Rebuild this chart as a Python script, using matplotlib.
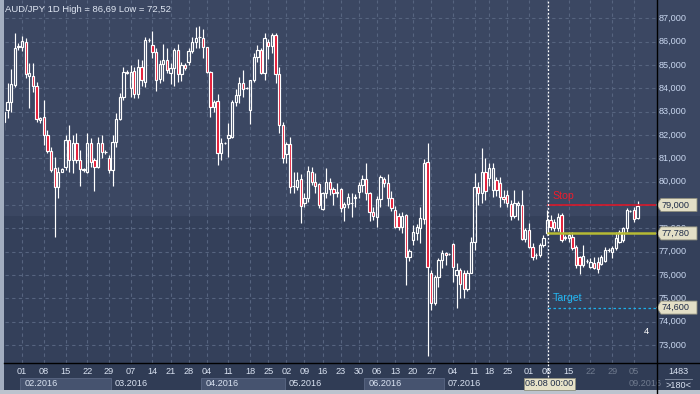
import matplotlib
matplotlib.use("Agg")
import matplotlib.pyplot as plt
from matplotlib.patches import Rectangle, Polygon

plt.rcParams['font.family'] = ['Liberation Sans', 'DejaVu Sans']

# daily bars AUD/JPY (one row per bar, left to right)
opens = [82.55, 83.07, 83.43, 84.14, 85.75, 85.78, 85.97, 84.53, 84.53, 84.10,
         82.64, 82.76, 82.00, 81.31, 80.57, 79.76, 80.43, 80.64, 81.78, 80.93,
         81.67, 80.93, 80.53, 80.43, 81.64, 80.93, 80.61, 81.67, 81.25, 81.03,
         80.50, 81.71, 82.67, 83.61, 84.70, 84.00, 84.74, 83.76, 84.90, 84.29,
         86.05, 85.86, 85.57, 84.38, 85.03, 85.21, 84.67, 84.86, 85.64, 84.61,
         85.00, 85.14, 85.60, 86.00, 86.20, 86.17, 85.75, 84.68, 83.21, 83.46,
         81.21, 81.64, 81.86, 81.90, 83.40, 83.71, 84.21, 84.00, 83.07, 84.36,
         85.36, 85.64, 84.64, 86.00, 85.81, 86.28, 84.61, 82.43, 81.18, 81.61,
         79.80, 79.78, 80.10, 79.10, 79.28, 80.43, 80.00, 79.88, 78.81, 79.50,
         79.97, 79.68, 79.53, 79.67, 78.90, 79.04, 79.07, 79.30, 79.57, 79.86,
         80.10, 79.50, 78.71, 78.50, 79.24, 80.10, 79.93, 79.28, 78.78, 78.53,
         78.07, 78.57, 76.76, 77.50, 77.78, 78.00, 78.40, 80.83, 76.07, 74.78,
         75.93, 76.64, 76.93, 76.90, 77.33, 76.00, 76.20, 76.10, 75.38, 76.10,
         77.43, 79.78, 79.50, 80.43, 80.14, 79.64, 80.07, 79.93, 79.33, 79.43,
         79.03, 78.53, 79.00, 79.00, 77.53, 77.93, 77.21, 76.85, 76.86, 77.28,
         77.78, 78.36, 78.28, 78.00, 78.57, 77.57, 77.57, 77.64, 77.21, 76.78,
         76.43, 76.60, 76.36, 76.53, 76.57, 76.47, 76.61, 77.07, 77.00, 77.14,
         77.43, 77.50, 78.00, 78.74, 78.78, 78.43]
highs = [83.14, 84.23, 84.81, 86.36, 85.92, 86.24, 86.14, 85.07, 85.07, 84.28,
         82.78, 83.50, 82.21, 81.50, 81.07, 80.64, 80.60, 82.00, 82.43, 82.00,
         82.07, 81.36, 80.60, 82.07, 81.86, 81.00, 81.93, 82.00, 81.35, 81.14,
         82.00, 82.93, 83.78, 84.93, 84.80, 85.00, 84.93, 85.24, 85.21, 86.21,
         86.15, 86.46, 85.71, 85.21, 85.88, 85.71, 85.07, 85.71, 85.88, 85.14,
         85.07, 85.71, 86.21, 86.64, 86.69, 86.54, 85.75, 84.74, 83.50, 83.74,
         81.86, 81.70, 82.50, 83.50, 83.97, 84.50, 84.78, 84.05, 84.36, 85.50,
         85.86, 85.71, 86.36, 86.10, 86.36, 86.36, 84.93, 82.57, 81.71, 81.93,
         80.43, 80.43, 80.31, 79.53, 80.67, 80.64, 80.38, 79.93, 79.57, 80.57,
         80.14, 79.78, 79.96, 79.71, 79.14, 79.53, 79.53, 79.47, 79.97, 80.28,
         80.78, 79.57, 78.93, 79.38, 80.30, 80.21, 80.33, 79.60, 78.95, 78.64,
         78.71, 78.60, 77.10, 78.14, 78.20, 78.93, 80.95, 81.67, 76.21, 76.00,
         76.71, 77.07, 77.00, 76.95, 77.35, 76.50, 76.30, 76.20, 76.20, 77.64,
         80.36, 80.00, 81.45, 81.00, 80.78, 80.78, 80.20, 80.21, 79.64, 79.64,
         79.21, 79.64, 79.17, 79.64, 78.00, 78.21, 77.36, 76.95, 77.36, 77.71,
         78.78, 78.57, 78.40, 78.64, 78.67, 77.70, 77.85, 77.85, 77.28, 76.81,
         77.28, 76.70, 76.71, 76.75, 76.75, 76.86, 77.21, 77.15, 77.24, 77.85,
         77.93, 78.07, 78.85, 78.80, 78.93, 79.18]
lows = [82.20, 82.73, 83.00, 84.05, 85.64, 85.60, 84.43, 83.14, 83.86, 82.57,
        82.50, 81.57, 81.21, 80.43, 77.63, 79.28, 80.40, 80.50, 80.43, 80.36,
        80.78, 79.83, 80.43, 80.36, 80.64, 79.60, 80.57, 81.00, 81.20, 80.36,
        79.80, 81.50, 82.64, 83.50, 84.60, 83.64, 83.57, 83.57, 84.10, 84.07,
        85.97, 85.28, 83.88, 84.24, 84.31, 84.64, 84.20, 84.11, 84.28, 84.33,
        84.80, 84.99, 85.50, 85.71, 85.71, 85.28, 84.64, 82.78, 83.00, 80.71,
        80.93, 81.60, 81.07, 81.86, 83.26, 83.36, 83.64, 83.95, 82.46, 84.28,
        85.14, 84.60, 84.36, 85.24, 85.53, 84.24, 82.07, 80.81, 80.81, 79.50,
        79.50, 79.64, 78.21, 78.93, 79.14, 79.86, 79.50, 78.86, 78.78, 79.28,
        79.43, 79.00, 79.36, 78.71, 78.31, 78.86, 78.47, 78.90, 79.28, 79.57,
        79.21, 78.33, 78.36, 78.04, 78.93, 79.78, 78.95, 78.75, 78.00, 77.93,
        77.80, 75.57, 76.60, 77.30, 77.50, 77.35, 78.20, 72.52, 74.50, 74.70,
        75.50, 76.28, 76.43, 76.85, 75.71, 74.57, 75.00, 75.00, 75.30, 76.07,
        77.07, 79.00, 79.07, 79.21, 79.80, 79.36, 79.40, 78.93, 79.07, 78.93,
        78.36, 78.43, 78.36, 77.50, 77.40, 77.14, 76.64, 76.70, 76.78, 77.21,
        77.70, 77.93, 77.90, 77.90, 77.43, 77.50, 77.43, 77.07, 76.28, 76.04,
        76.36, 76.50, 76.28, 76.24, 76.10, 76.43, 76.57, 77.00, 76.71, 77.07,
        77.36, 77.40, 77.85, 78.70, 78.28, 78.38]
closes = [83.00, 83.42, 84.18, 85.71, 85.80, 86.04, 84.61, 84.64, 84.10, 82.67,
          82.73, 82.00, 81.31, 80.50, 79.76, 80.43, 80.53, 81.78, 80.93, 81.67,
          80.93, 80.53, 80.50, 81.64, 80.86, 80.61, 81.67, 81.29, 81.27, 80.50,
          81.71, 82.67, 83.61, 84.68, 84.65, 84.71, 83.76, 84.90, 84.36, 86.07,
          86.07, 85.57, 84.36, 85.03, 85.21, 84.78, 84.86, 85.64, 84.61, 84.99,
          84.86, 85.60, 86.00, 86.17, 86.21, 85.75, 84.68, 83.21, 83.40, 81.21,
          81.64, 81.64, 82.00, 83.43, 83.71, 84.21, 83.99, 84.00, 84.36, 85.36,
          85.64, 84.64, 86.17, 85.81, 86.28, 84.61, 82.43, 81.00, 81.61, 79.78,
          79.83, 80.07, 78.96, 79.28, 80.47, 80.00, 79.83, 79.00, 79.50, 79.97,
          79.68, 79.50, 79.55, 78.88, 79.03, 79.33, 79.07, 79.32, 79.86, 80.10,
          79.50, 78.71, 78.53, 79.24, 80.20, 79.93, 79.28, 78.85, 78.07, 78.07,
          78.53, 76.78, 77.04, 77.85, 78.07, 78.43, 80.80, 76.36, 74.78, 75.93,
          76.64, 76.93, 76.86, 76.90, 76.33, 76.20, 75.60, 75.38, 76.10, 77.43,
          79.78, 79.50, 80.40, 79.60, 80.57, 80.57, 79.64, 79.36, 79.24, 79.07,
          78.53, 79.07, 79.07, 77.53, 77.93, 77.18, 76.78, 76.86, 77.28, 77.57,
          78.36, 78.04, 78.00, 78.50, 77.50, 77.64, 77.71, 77.14, 76.43, 76.43,
          76.81, 76.61, 76.57, 76.28, 76.24, 76.76, 77.07, 77.07, 77.14, 77.57,
          77.85, 78.00, 78.78, 78.74, 78.38, 78.95]

# bottom axis: first bar of each week and first bar of each month
week_labels = ["01", "08", "15", "22", "29", "07", "14", "21", "28", "04", "11",
               "18", "25", "02", "09", "16", "23", "30", "06", "13", "20", "27",
               "04", "11", "18", "25", "01", "08", "15", "22", "29", "05"]
week_bars = [5, 11, 17, 23, 29, 35, 41, 46, 51, 56, 62, 68, 73, 78, 83, 88, 93,
             98, 103, 108, 113, 118, 124, 130, 134, 139, 145, 150, 156, 162, 168, 174]
month_labels = ["02.2016", "03.2016", "04.2016", "05.2016", "06.2016", "07.2016", "08.2016", "09.2016"]
month_bars = [5, 30, 55, 78, 100, 122, 145, 172]

price_ticks = list(range(73, 88))
stop_level = 79.0
entry_level = 77.78
target_level = 74.6
cursor_bar = 150.3

W, H = 700, 394
fig = plt.figure(figsize=(7.0, 3.94), dpi=100)
fig.patch.set_facecolor('#3b4762')


def fbox(x0, y0, x1, y1):
    # pixel box (top-left origin) -> figure fraction rect
    return (x0 / W, 1 - y1 / H), (x1 - x0) / W, (y1 - y0) / H


def frect(x0, y0, x1, y1, color):
    xy, w, h = fbox(x0, y0, x1, y1)
    fig.patches.append(Rectangle(xy, w, h, transform=fig.transFigure,
                                 facecolor=color, edgecolor='none', zorder=-10))


# background bands, axis strip, frame
frect(0, 216, W, 363, '#34405a')
frect(0, 363, W, H, '#303c55')
frect(0, 0, 4, H, '#a3aec0')
frect(0, 390, W, H, '#bcc3ce')

x_lo, x_hi = 0.28, 180.1
y_lo, y_hi = 72.225, 87.784

xy, w, h = fbox(5, 0, 656, 363)
ax = fig.add_axes([xy[0], xy[1], w, h])
ax.set_xlim(x_lo, x_hi)
ax.set_ylim(y_lo, y_hi)
ax.axis('off')
ax.patch.set_alpha(0)

grid_kw = dict(color='#56647f', lw=0.8, linestyle=(0, (3, 3)), zorder=1)
for p in price_ticks:
    ax.axhline(p, **grid_kw)
for b in week_bars:
    ax.axvline(b, **grid_kw)

# candles
for i in range(len(opens)):
    o, hi, lo, c = opens[i], highs[i], lows[i], closes[i]
    top, bot = max(o, c), min(o, c)
    ax.plot([i, i], [top, hi], color='white', lw=0.85, zorder=3, solid_capstyle='butt')
    ax.plot([i, i], [lo, bot], color='white', lw=0.85, zorder=3, solid_capstyle='butt')
    fill = '#e3102d' if c < o else 'none'
    ax.add_patch(Rectangle((i - 0.32, bot), 0.64, max(top - bot, 0.015),
                           facecolor=fill, edgecolor='white', lw=0.85, zorder=4))

# trade levels from the cursor bar
ax.plot([cursor_bar, x_hi], [stop_level, stop_level], color='#d8192a', lw=1.2, zorder=5)
ax.plot([cursor_bar, x_hi], [entry_level, entry_level], color='#b6ba34', lw=1.8, zorder=5)
ax.plot([cursor_bar, x_hi], [target_level, target_level], color='#1cb0ea', lw=0.9,
        linestyle=(0, (2, 2)), zorder=5)
ax.axvline(cursor_bar, color='white', lw=0.9, linestyle=(0, (1.5, 1.5)), zorder=5)
ax.text(cursor_bar + 1.2, stop_level + 0.18, "Stop", color='#ee1c2c', fontsize=7.6,
        va='bottom', ha='left', zorder=6)
ax.text(cursor_bar + 1.2, target_level + 0.18, "Target", color='#22b8f4', fontsize=7.6,
        va='bottom', ha='left', zorder=6)

fig.text(5 / W, 1 - 9 / H, "AUD/JPY 1D High = 86,69 Low = 72,52", color='#dfe6f2',
         fontsize=6.8, ha='left', va='center')
fig.text(646 / W, 1 - 331 / H, "4", color='white', fontsize=6.8, ha='center', va='center')

# right price axis
xy, w, h = fbox(656, 0, W, 363)
axr = fig.add_axes([xy[0], xy[1], w, h])
axr.set_xlim(0, 44)
axr.set_ylim(y_lo, y_hi)
axr.axis('off')
axr.patch.set_alpha(0)
tag_levels = [stop_level, entry_level, target_level]
for p in price_ticks:
    if p == stop_level:
        continue  # fully under the stop tag
    axr.text(3, p, f"{p},000", color='#c9d7ef', fontsize=6.6, ha='left', va='center')

for lvl in tag_levels:
    hh = 0.28
    axr.add_patch(Polygon([(0.6, lvl), (5, lvl + hh), (41, lvl + hh), (41, lvl - hh), (5, lvl - hh)],
                          closed=True, facecolor='#e3dfc6', edgecolor='#8e8e7e', lw=0.6, zorder=5))
    axr.text(6, lvl, f"{lvl:.3f}".replace('.', ','), color='#1f2c48', fontsize=6.6,
             ha='left', va='center', zorder=6)

# bottom time axis
xy, w, h = fbox(5, 363, 656, 390)
axb = fig.add_axes([xy[0], xy[1], w, h])
axb.set_xlim(x_lo, x_hi)
axb.set_ylim(0, 27)
axb.axis('off')
axb.patch.set_alpha(0)
dim_from = 157
month_ends = month_bars[1:] + [x_hi]
for j, (lab, b) in enumerate(zip(month_labels, month_bars)):
    if j % 2 == 0:
        axb.add_patch(Rectangle((b - 0.5, 0.5), min(month_ends[j], dim_from) - b, 12,
                                facecolor='#46536f', edgecolor='#5b6884', lw=0.6, zorder=1))
    if lab == "08.2016":
        continue  # hidden under the cursor date box
    col = '#6f7a8e' if b >= dim_from else '#d9e2f1'
    axb.text(b + 0.6, 6.3, lab, color=col, fontsize=6.6, ha='left', va='center', zorder=2)
for lab, b in zip(week_labels, week_bars):
    col = '#6f7a8e' if b >= dim_from else '#d9e2f1'
    axb.text(b, 18.5, lab, color=col, fontsize=6.6, ha='center', va='center', zorder=2)
axb.axvline(cursor_bar, ymin=0.5, ymax=1, color='white', lw=0.9, linestyle=(0, (1.5, 1.5)))
axb.text(cursor_bar + 0.3, 6.3, "08.08 00:00", color='#1f2c48', fontsize=6.6, ha='center',
         va='center', zorder=4,
         bbox=dict(boxstyle='square,pad=0.15', facecolor='#e6e2c8', edgecolor='#8e8e7e', lw=0.6))

# corner box
fig.text(678 / W, 1 - 372 / H, "1483", color='#d9e2f1', fontsize=6.6, ha='center', va='center')
fig.text(678 / W, 1 - 386 / H, ">180<", color='#d9e2f1', fontsize=6.6, ha='center', va='center')
fig.lines.append(plt.Line2D([665 / W, 692 / W], [1 - 379 / H, 1 - 379 / H],
                            transform=fig.transFigure, color='#8894a8', lw=0.6))

# black separators
fig.lines.append(plt.Line2D([656.5 / W, 656.5 / W], [0, 1], transform=fig.transFigure,
                            color='black', lw=1.0))
fig.lines.append(plt.Line2D([4 / W, 1], [1 - 363 / H, 1 - 363 / H], transform=fig.transFigure,
                            color='black', lw=1.0))

fig.savefig('out.png', dpi=100, facecolor=fig.get_facecolor())
